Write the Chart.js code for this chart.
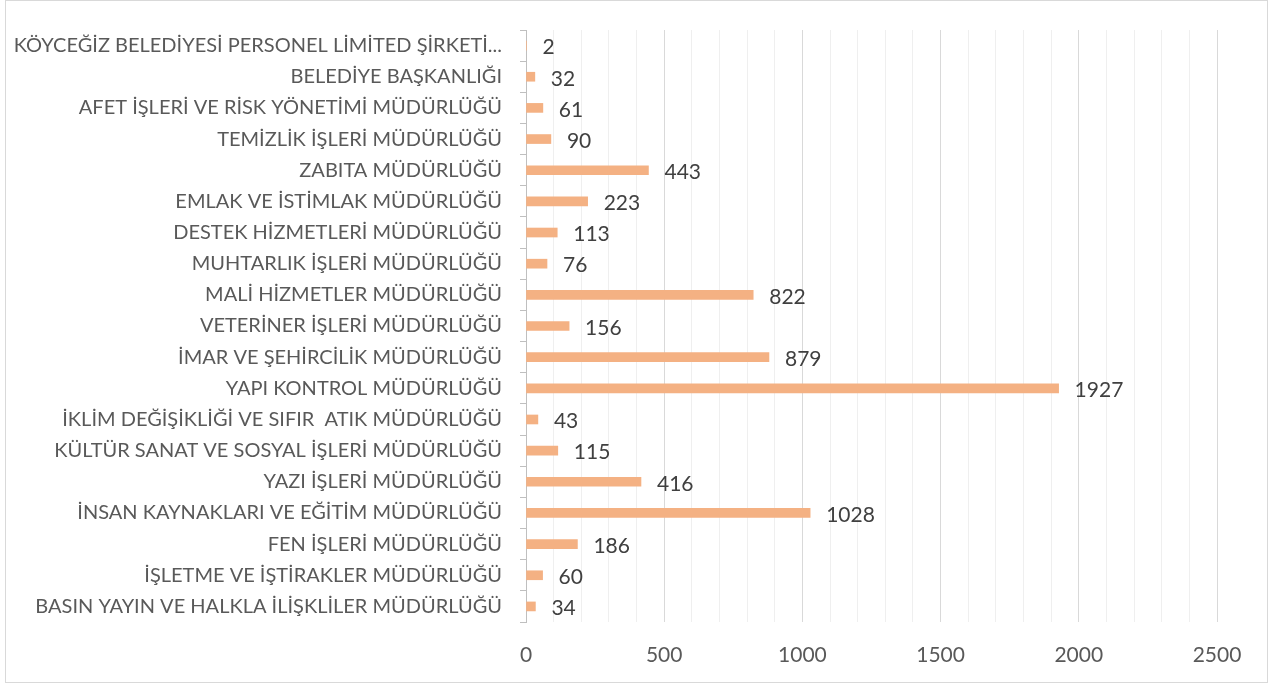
<!DOCTYPE html>
<html lang="tr">
<head>
<meta charset="utf-8">
<script src="https://cdn.jsdelivr.net/npm/chart.js@4.4.1/dist/chart.umd.min.js"></script>
<style>
  html, body { margin: 0; padding: 0; background: #fff; }
  #kutu { position: relative; width: 1268px; height: 684px; }
  #grafik { display: block; }
</style>
</head>
<body>
<div id="kutu"><canvas id="grafik" width="1268" height="684"></canvas></div>
<script>
// Birimler (yukarıdan aşağıya)
const birimler = [
  'KÖYCEĞİZ BELEDİYESİ PERSONEL LİMİTED ŞİRKETİ...',
  'BELEDİYE BAŞKANLIĞI',
  'AFET İŞLERİ VE RİSK YÖNETİMİ MÜDÜRLÜĞÜ',
  'TEMİZLİK İŞLERİ MÜDÜRLÜĞÜ',
  'ZABITA MÜDÜRLÜĞÜ',
  'EMLAK VE İSTİMLAK MÜDÜRLÜĞÜ',
  'DESTEK HİZMETLERİ MÜDÜRLÜĞÜ',
  'MUHTARLIK İŞLERİ MÜDÜRLÜĞÜ',
  'MALİ HİZMETLER MÜDÜRLÜĞÜ',
  'VETERİNER İŞLERİ MÜDÜRLÜĞÜ',
  'İMAR VE ŞEHİRCİLİK MÜDÜRLÜĞÜ',
  'YAPI KONTROL MÜDÜRLÜĞÜ',
  'İKLİM DEĞİŞİKLİĞİ VE SIFIR  ATIK MÜDÜRLÜĞÜ',
  'KÜLTÜR SANAT VE SOSYAL İŞLERİ MÜDÜRLÜĞÜ',
  'YAZI İŞLERİ MÜDÜRLÜĞÜ',
  'İNSAN KAYNAKLARI VE EĞİTİM MÜDÜRLÜĞÜ',
  'FEN İŞLERİ MÜDÜRLÜĞÜ',
  'İŞLETME VE İŞTİRAKLER MÜDÜRLÜĞÜ',
  'BASIN YAYIN VE HALKLA İLİŞKLİLER MÜDÜRLÜĞÜ'
];

const adetler = [2, 32, 61, 90, 443, 223, 113, 76, 822, 156, 879, 1927, 43, 115, 416, 1028, 186, 60, 34];

// Eksen ayarları
const eksenMin = 0;
const eksenMax = 2500;
const araAdim = 100;
const etiketAdim = 500;

const yaziTipi = 'Lato, "Liberation Sans", sans-serif';

// Çubukların sonuna değer yazan eklenti
const degerEtiketi = {
  id: 'degerEtiketi',
  afterDatasetsDraw(chart) {
    const ctx = chart.ctx;
    const meta = chart.getDatasetMeta(0);
    ctx.save();
    ctx.font = '21px ' + yaziTipi;
    ctx.fillStyle = '#404040';
    ctx.textAlign = 'left';
    ctx.textBaseline = 'middle';
    meta.data.forEach((bar, i) => {
      ctx.fillText(String(adetler[i]), bar.x + 16, bar.y + 2);
    });
    ctx.restore();
  }
};

// Dış çerçeve
const cerceve = {
  id: 'cerceve',
  beforeDraw(chart) {
    const ctx = chart.ctx;
    ctx.save();
    ctx.fillStyle = '#fff';
    ctx.fillRect(0, 0, chart.width, chart.height);
    ctx.strokeStyle = '#d9d9d9';
    ctx.lineWidth = 1;
    ctx.strokeRect(5.5, 0.5, chart.width - 6, chart.height - 2);
    ctx.restore();
  }
};

new Chart(document.getElementById('grafik'), {
  type: 'bar',
  data: {
    labels: birimler,
    datasets: [{
      data: adetler,
      backgroundColor: '#F4B183',
      borderWidth: 0,
      barThickness: 9
    }]
  },
  options: {
    indexAxis: 'y',
    responsive: false,
    animation: false,
    layout: { padding: { top: 29, right: 51, bottom: 0, left: 0 } },
    plugins: {
      legend: { display: false },
      tooltip: { enabled: false }
    },
    scales: {
      x: {
        min: eksenMin,
        max: eksenMax,
        afterFit: s => { s.height = 62; },
        border: { display: false },
        grid: {
          drawTicks: false,
          color: c => (c.tick && c.tick.value % etiketAdim === 0) ? '#d9d9d9' : '#efefef',
          lineWidth: 1
        },
        ticks: {
          stepSize: araAdim,
          autoSkip: false,
          maxRotation: 0,
          padding: 21,
          color: '#595959',
          font: { family: yaziTipi, size: 21 },
          callback: v => (v % etiketAdim === 0 ? String(v) : '')
        }
      },
      y: {
        afterFit: s => { s.width = 526; },
        border: { display: true, color: '#bfbfbf' },
        grid: {
          offset: true,
          drawOnChartArea: false,
          tickLength: 6,
          color: '#bfbfbf'
        },
        ticks: {
          autoSkip: false,
          padding: 18,
          color: '#595959',
          font: { family: yaziTipi, size: 20 }
        }
      }
    }
  },
  plugins: [cerceve, degerEtiketi]
});
</script>
</body>
</html>
